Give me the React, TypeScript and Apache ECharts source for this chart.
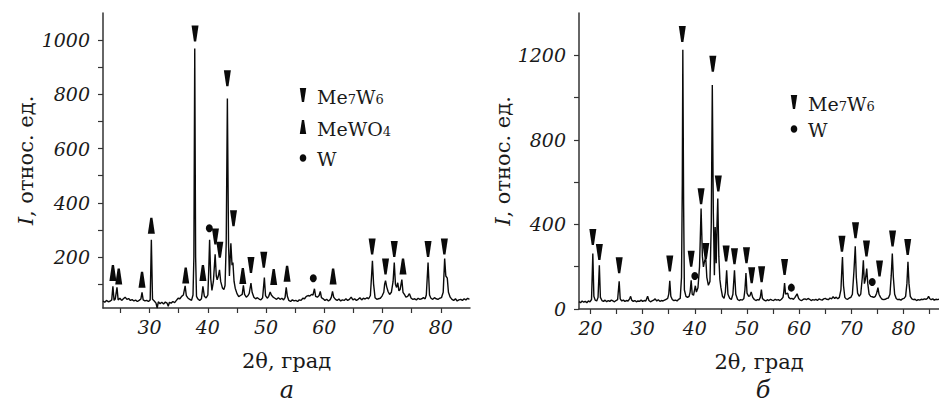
import React, { useEffect, useRef } from "react";
import * as echarts from "echarts";

// ---- Data: panel (а) ----
const spectrumA: [number, number][] = [
  [22.0,38],[22.3,33],[22.6,40],[22.9,35],[23.2,37],[23.5,42],[23.7,92],[23.9,40],[24.1,45],[24.4,88],[24.6,42],[24.9,48],
  [25.2,40],[25.5,46],[25.8,52],[26.1,44],[26.4,47],[26.7,40],[27.0,43],[27.3,38],[27.6,41],[27.9,36],[28.2,40],[28.5,45],
  [28.7,70],[28.9,42],[29.2,38],[29.5,40],[29.8,36],[30.1,42],[30.3,264],[30.5,44],[30.8,38],[31.1,30],[31.3,12],[31.5,35],
  [31.8,28],[32.1,33],[32.4,27],[32.7,34],[33.0,30],[33.2,18],[33.4,33],[33.7,30],[34.0,36],[34.3,32],[34.6,40],[34.9,48],
  [35.2,46],[35.5,55],[35.8,60],[36.1,94],[36.3,58],[36.6,48],[36.9,44],[37.2,40],[37.45,60],[37.6,200],[37.75,969],[37.9,200],
  [38.05,55],[38.3,45],[38.6,40],[38.9,46],[39.15,92],[39.4,55],[39.7,49],[40.0,60],[40.15,150],[40.3,264],[40.5,120],[40.7,77],
  [40.95,110],[41.25,210],[41.45,130],[41.6,116],[41.8,130],[42.0,153],[42.2,110],[42.5,86],[42.75,80],[42.95,95],[43.15,250],
  [43.35,785],[43.55,250],[43.7,130],[43.95,251],[44.15,170],[44.3,180],[44.5,110],[44.7,85],[45.0,65],[45.3,54],[45.6,58],
  [45.9,62],[46.1,96],[46.3,62],[46.6,52],[46.9,58],[47.1,66],[47.4,104],[47.6,70],[47.9,52],[48.2,46],[48.5,50],[48.8,45],
  [49.1,42],[49.4,50],[49.7,124],[49.9,58],[50.2,48],[50.45,55],[50.7,71],[50.9,60],[51.2,52],[51.5,48],[51.8,44],[52.1,50],
  [52.4,44],[52.7,48],[53.0,42],[53.25,50],[53.45,88],[53.65,55],[53.9,40],[54.2,36],[54.5,42],[54.8,38],[55.1,40],[55.4,36],
  [55.7,42],[56.0,40],[56.3,48],[56.6,46],[56.9,55],[57.2,58],[57.5,56],[57.8,62],[58.05,60],[58.3,83],[58.5,55],[58.8,52],
  [59.1,58],[59.3,73],[59.5,50],[59.8,46],[60.1,40],[60.4,44],[60.7,38],[61.0,43],[61.2,52],[61.4,73],[61.6,52],[61.9,44],
  [62.2,40],[62.5,45],[62.8,38],[63.1,42],[63.4,40],[63.7,46],[64.0,40],[64.3,44],[64.6,52],[64.9,42],[65.2,46],[65.5,40],
  [65.8,44],[66.1,50],[66.4,42],[66.7,48],[67.0,45],[67.3,50],[67.6,46],[67.9,58],[68.1,130],[68.25,186],[68.45,100],[68.7,50],
  [69.0,44],[69.3,46],[69.6,48],[69.9,56],[70.2,70],[70.35,100],[70.5,113],[70.7,90],[70.95,72],[71.2,62],[71.5,70],[71.8,110],
  [72.0,180],[72.2,100],[72.4,88],[72.6,105],[72.8,75],[73.0,80],[73.3,117],[73.5,70],[73.8,60],[74.0,52],[74.3,55],[74.6,65],
  [74.9,48],[75.2,44],[75.5,46],[75.8,42],[76.1,48],[76.4,44],[76.7,46],[77.0,50],[77.3,46],[77.5,60],[77.8,180],[78.05,60],
  [78.3,48],[78.6,44],[78.9,50],[79.2,46],[79.5,44],[79.8,48],[80.1,50],[80.4,70],[80.65,194],[80.85,130],[81.1,122],[81.3,70],
  [81.6,52],[81.9,44],[82.2,40],[82.5,46],[82.8,38],[83.1,42],[83.4,44],[83.7,40],[84.0,46],[84.3,42],[84.6,48],[84.9,44]
];
const me7w6A: [number, number][] = [
  [37.8,1024],[43.35,859],[44.4,343],[41.3,276],[42.05,227],[47.4,171],[49.6,190],[68.2,239],[70.5,165],[72.0,230],[77.8,230],[80.6,239]
];
const mewo4A: [number, number][] = [
  [23.7,141],[24.7,128],[28.7,116],[30.3,315],[36.2,132],[39.15,141],[46.0,130],[51.3,126],[53.6,138],[61.5,128],[73.5,165]
];
const wA: [number, number][] = [[40.25,306],[58.1,122]];

// ---- Data: panel (б) ----
const spectrumB: [number, number][] = [
  [17.8,35],[18.1,30],[18.4,38],[18.7,32],[19.0,36],[19.3,30],[19.6,38],[19.9,34],[20.2,45],[20.45,262],[20.65,60],[20.9,42],
  [21.2,38],[21.45,55],[21.7,207],[21.9,55],[22.2,40],[22.5,36],[22.8,42],[23.1,34],[23.4,40],[23.7,36],[24.0,42],[24.3,38],
  [24.6,34],[24.9,40],[25.2,44],[25.5,131],[25.7,48],[26.0,38],[26.3,42],[26.6,36],[26.9,40],[27.2,38],[27.5,48],[27.7,60],
  [27.9,42],[28.2,36],[28.5,40],[28.8,34],[29.1,38],[29.4,36],[29.7,42],[30.0,36],[30.3,40],[30.6,38],[30.95,60],[31.2,40],
  [31.5,34],[31.8,38],[32.1,42],[32.4,48],[32.7,38],[33.0,44],[33.3,36],[33.6,40],[33.9,38],[34.2,42],[34.5,46],[34.8,50],
  [35.0,70],[35.2,133],[35.4,60],[35.7,44],[36.0,40],[36.3,42],[36.6,38],[36.9,46],[37.2,50],[37.45,150],[37.6,600],[37.7,1226],
  [37.85,500],[38.0,90],[38.3,60],[38.6,55],[38.9,60],[39.1,80],[39.3,136],[39.5,70],[39.75,65],[40.1,110],[40.3,80],[40.6,100],
  [40.9,200],[41.2,475],[41.45,250],[41.65,199],[41.9,230],[42.1,240],[42.3,150],[42.6,112],[42.9,130],[43.15,400],[43.35,1060],
  [43.55,450],[43.75,160],[43.9,388],[44.1,216],[44.25,400],[44.4,522],[44.6,250],[44.8,140],[45.0,101],[45.3,60],[45.6,50],
  [45.85,80],[46.1,183],[46.35,70],[46.7,50],[47.0,45],[47.3,70],[47.6,183],[47.85,70],[48.2,45],[48.5,40],[48.8,44],[49.1,42],
  [49.4,50],[49.6,90],[49.8,170],[50.0,75],[50.3,60],[50.55,62],[50.8,81],[51.1,55],[51.4,45],[51.7,40],[52.0,44],[52.3,42],
  [52.55,55],[52.76,92],[52.95,50],[53.3,42],[53.6,38],[53.9,44],[54.2,40],[54.5,46],[54.8,42],[55.1,40],[55.4,46],[55.7,42],
  [56.0,44],[56.3,40],[56.6,46],[56.9,55],[57.05,80],[57.2,123],[57.4,70],[57.8,75],[58.0,55],[58.3,48],[58.6,50],[58.9,46],
  [59.2,55],[59.6,72],[59.9,50],[60.2,42],[60.5,40],[60.8,46],[61.1,48],[61.4,44],[61.7,50],[62.0,46],[62.3,40],[62.6,44],
  [62.9,42],[63.2,46],[63.5,40],[63.8,48],[64.1,44],[64.4,42],[64.7,48],[65.0,50],[65.3,46],[65.6,44],[65.9,52],[66.2,48],
  [66.5,58],[66.8,50],[67.1,56],[67.4,48],[67.7,55],[68.0,90],[68.2,200],[68.3,246],[68.5,110],[68.75,55],[69.0,48],[69.3,46],
  [69.6,52],[69.9,55],[70.2,70],[70.5,180],[70.75,297],[70.95,150],[71.2,75],[71.5,60],[71.8,70],[72.1,150],[72.3,230],[72.5,120],
  [72.7,140],[72.95,191],[73.15,120],[73.4,70],[73.7,60],[74.0,58],[74.3,55],[74.6,60],[74.85,75],[75.1,101],[75.3,70],[75.6,55],
  [75.9,46],[76.2,44],[76.5,46],[76.8,50],[77.1,52],[77.4,70],[77.65,160],[77.85,262],[78.05,150],[78.3,70],[78.6,50],[78.9,44],
  [79.2,46],[79.5,42],[79.8,48],[80.1,50],[80.4,60],[80.65,120],[80.85,223],[81.05,120],[81.3,60],[81.6,48],[81.9,44],[82.2,46],
  [82.5,40],[82.8,44],[83.1,42],[83.4,46],[83.7,44],[84.0,48],[84.3,46],[84.6,50],[84.8,60],[85.0,50],[85.3,44],[85.6,48],
  [85.9,42],[86.2,46],[86.5,44],[86.8,46]
];
const me7w6B: [number, number][] = [
  [20.45,341],[21.7,270],[25.5,207],[35.2,215],[37.6,1301],[39.3,238],[41.2,533],[42.1,274],[43.45,1160],[44.5,593],[46.0,262],
  [47.6,250],[49.9,254],[50.9,160],[52.8,164],[57.2,199],[68.2,309],[70.8,372],[72.9,286],[75.4,191],[77.9,333],[80.8,293]
];
const wB: [number, number][] = [[40.0,156],[58.5,101],[74.0,128]];

// ---- Axis ticks / labels ----
const xTicksA = [25, 30, 35, 40, 45, 50, 55, 60, 65, 70, 75, 80];
const xLabelsA = [30, 40, 50, 60, 70, 80];
const yTicksA = [100, 200, 300, 400, 500, 600, 700, 800, 900, 1000];
const yLabelsA = [200, 400, 600, 800, 1000];
const xTicksB = [20, 25, 30, 35, 40, 45, 50, 55, 60, 65, 70, 75, 80, 85];
const xLabelsB = [20, 30, 40, 50, 60, 70, 80];
const yTicksB = [0, 200, 400, 600, 800, 1000, 1200];
const yLabelsB = [0, 400, 800, 1200];

const FONT = "'DejaVu Serif', serif";
const AX = "#333";
const INK = "#0a0a0a";
const TXT = "#1a1a1a";
const DOWN = "path://M0,0L10,0L6.6,24L3.4,24Z";
const UP = "path://M3.4,0L6.6,0L10,24L0,24Z";

const subRich = {
  n: { fontFamily: FONT, fontSize: 19, lineHeight: 23, color: TXT, verticalAlign: "bottom" },
  s: { fontFamily: FONT, fontSize: 13, lineHeight: 14, color: TXT, verticalAlign: "bottom", padding: [10, 0, 0, 0] },
};

function xAxisDef(grid: number, min: number, max: number, ticks: number[], labels: number[]) {
  return {
    gridIndex: grid, type: "value", min, max,
    axisLine: { show: true, onZero: false, lineStyle: { color: AX, width: 1.5 } },
    axisTick: { show: true, customValues: ticks, length: 5, lineStyle: { color: AX, width: 1.2 } },
    axisLabel: { customValues: labels, margin: 9, fontFamily: FONT, fontStyle: "italic", fontSize: 19, color: TXT, formatter: (v: number) => String(v) },
    splitLine: { show: false },
    name: "2θ, град", nameLocation: "middle", nameGap: 42,
    nameTextStyle: { fontFamily: FONT, fontSize: 21, color: TXT },
  };
}
function yAxisDef(grid: number, min: number, max: number, ticks: number[], labels: number[], gap: number) {
  return {
    gridIndex: grid, type: "value", min, max,
    axisLine: { show: true, onZero: false, lineStyle: { color: AX, width: 1.5 } },
    axisTick: { show: true, customValues: ticks, length: 5, lineStyle: { color: AX, width: 1.2 } },
    axisLabel: { customValues: labels, margin: 13, fontFamily: FONT, fontStyle: "italic", fontSize: 19, color: TXT, formatter: (v: number) => String(v) },
    splitLine: { show: false },
    name: "{i|I}, относ. ед.", nameLocation: "middle", nameRotate: 90, nameGap: gap,
    nameTextStyle: { fontFamily: FONT, fontSize: 21, color: TXT, rich: { i: { fontFamily: FONT, fontStyle: "italic", fontSize: 21, color: TXT } } },
  };
}
function markers(name: string, data: [number, number][], grid: number, symbol: string, size: number[]) {
  return {
    name, type: "scatter", xAxisIndex: grid, yAxisIndex: grid, data, symbol, symbolSize: size,
    itemStyle: { color: INK, opacity: 1 }, silent: true, z: 5,
  };
}
function legendRow(x: number, y: number, kind: string, label: string) {
  let shape: any;
  if (kind === "down") shape = { type: "polygon", shape: { points: [[x - 3.2, y - 7], [x + 3.2, y - 7], [x + 1.1, y + 7], [x - 1.1, y + 7]] }, style: { fill: INK } };
  else if (kind === "up") shape = { type: "polygon", shape: { points: [[x - 1.1, y - 7], [x + 1.1, y - 7], [x + 3.2, y + 7], [x - 3.2, y + 7]] }, style: { fill: INK } };
  else shape = { type: "ellipse", shape: { cx: x, cy: y + 1, rx: 3.3, ry: 3.8 }, style: { fill: INK } };
  return [
    shape,
    { type: "text", x: x + 14, y: y - 12, style: { text: label, rich: subRich, fontFamily: FONT, fontSize: 19, fill: TXT, verticalAlign: "top", align: "left" } },
  ];
}

export default function App() {
  const ref = useRef<HTMLDivElement>(null);
  useEffect(() => {
    if (!ref.current) return;
    const chart = echarts.init(ref.current, null, { renderer: "svg" });
    chart.setOption({
      animation: false,
      backgroundColor: "#fff",
      grid: [
        { left: 103, top: 13, width: 367, height: 295 },
        { left: 579, top: 13, width: 360, height: 296 },
      ],
      xAxis: [xAxisDef(0, 22, 85, xTicksA, xLabelsA), xAxisDef(1, 17.8, 86.8, xTicksB, xLabelsB)],
      yAxis: [yAxisDef(0, 12, 1100, yTicksA, yLabelsA, 67), yAxisDef(1, 0, 1400, yTicksB, yLabelsB, 62)],
      series: [
        { name: "а", type: "line", xAxisIndex: 0, yAxisIndex: 0, data: spectrumA, showSymbol: false, lineStyle: { color: INK, width: 1.4 }, silent: true },
        { name: "б", type: "line", xAxisIndex: 1, yAxisIndex: 1, data: spectrumB, showSymbol: false, lineStyle: { color: INK, width: 1.4 }, silent: true },
        markers("Me₇W₆ (а)", me7w6A, 0, DOWN, [7, 16]),
        markers("MeWO₄ (а)", mewo4A, 0, UP, [7, 16]),
        markers("W (а)", wA, 0, "circle", [7, 8]),
        markers("Me₇W₆ (б)", me7w6B, 1, DOWN, [7, 16]),
        markers("W (б)", wB, 1, "circle", [7, 8]),
      ],
      graphic: [
        ...legendRow(303, 95, "down", "{n|Me}{s|7}{n|W}{s|6}"),
        ...legendRow(303, 127, "up", "{n|MeWO}{s|4}"),
        ...legendRow(303, 157, "dot", "{n|W}"),
        ...legendRow(794, 102, "down", "{n|Me}{s|7}{n|W}{s|6}"),
        ...legendRow(794, 128, "dot", "{n|W}"),
        { type: "text", x: 287, y: 390, style: { text: "а", fontFamily: FONT, fontStyle: "italic", fontSize: 24, fill: TXT, align: "center", verticalAlign: "middle" } },
        { type: "text", x: 763, y: 390, style: { text: "б", fontFamily: FONT, fontStyle: "italic", fontSize: 24, fill: TXT, align: "center", verticalAlign: "middle" } },
      ],
    });
    return () => chart.dispose();
  }, []);
  return <div ref={ref} style={{ position: "fixed", left: 0, top: 0, width: 939, height: 408 }} />;
}
